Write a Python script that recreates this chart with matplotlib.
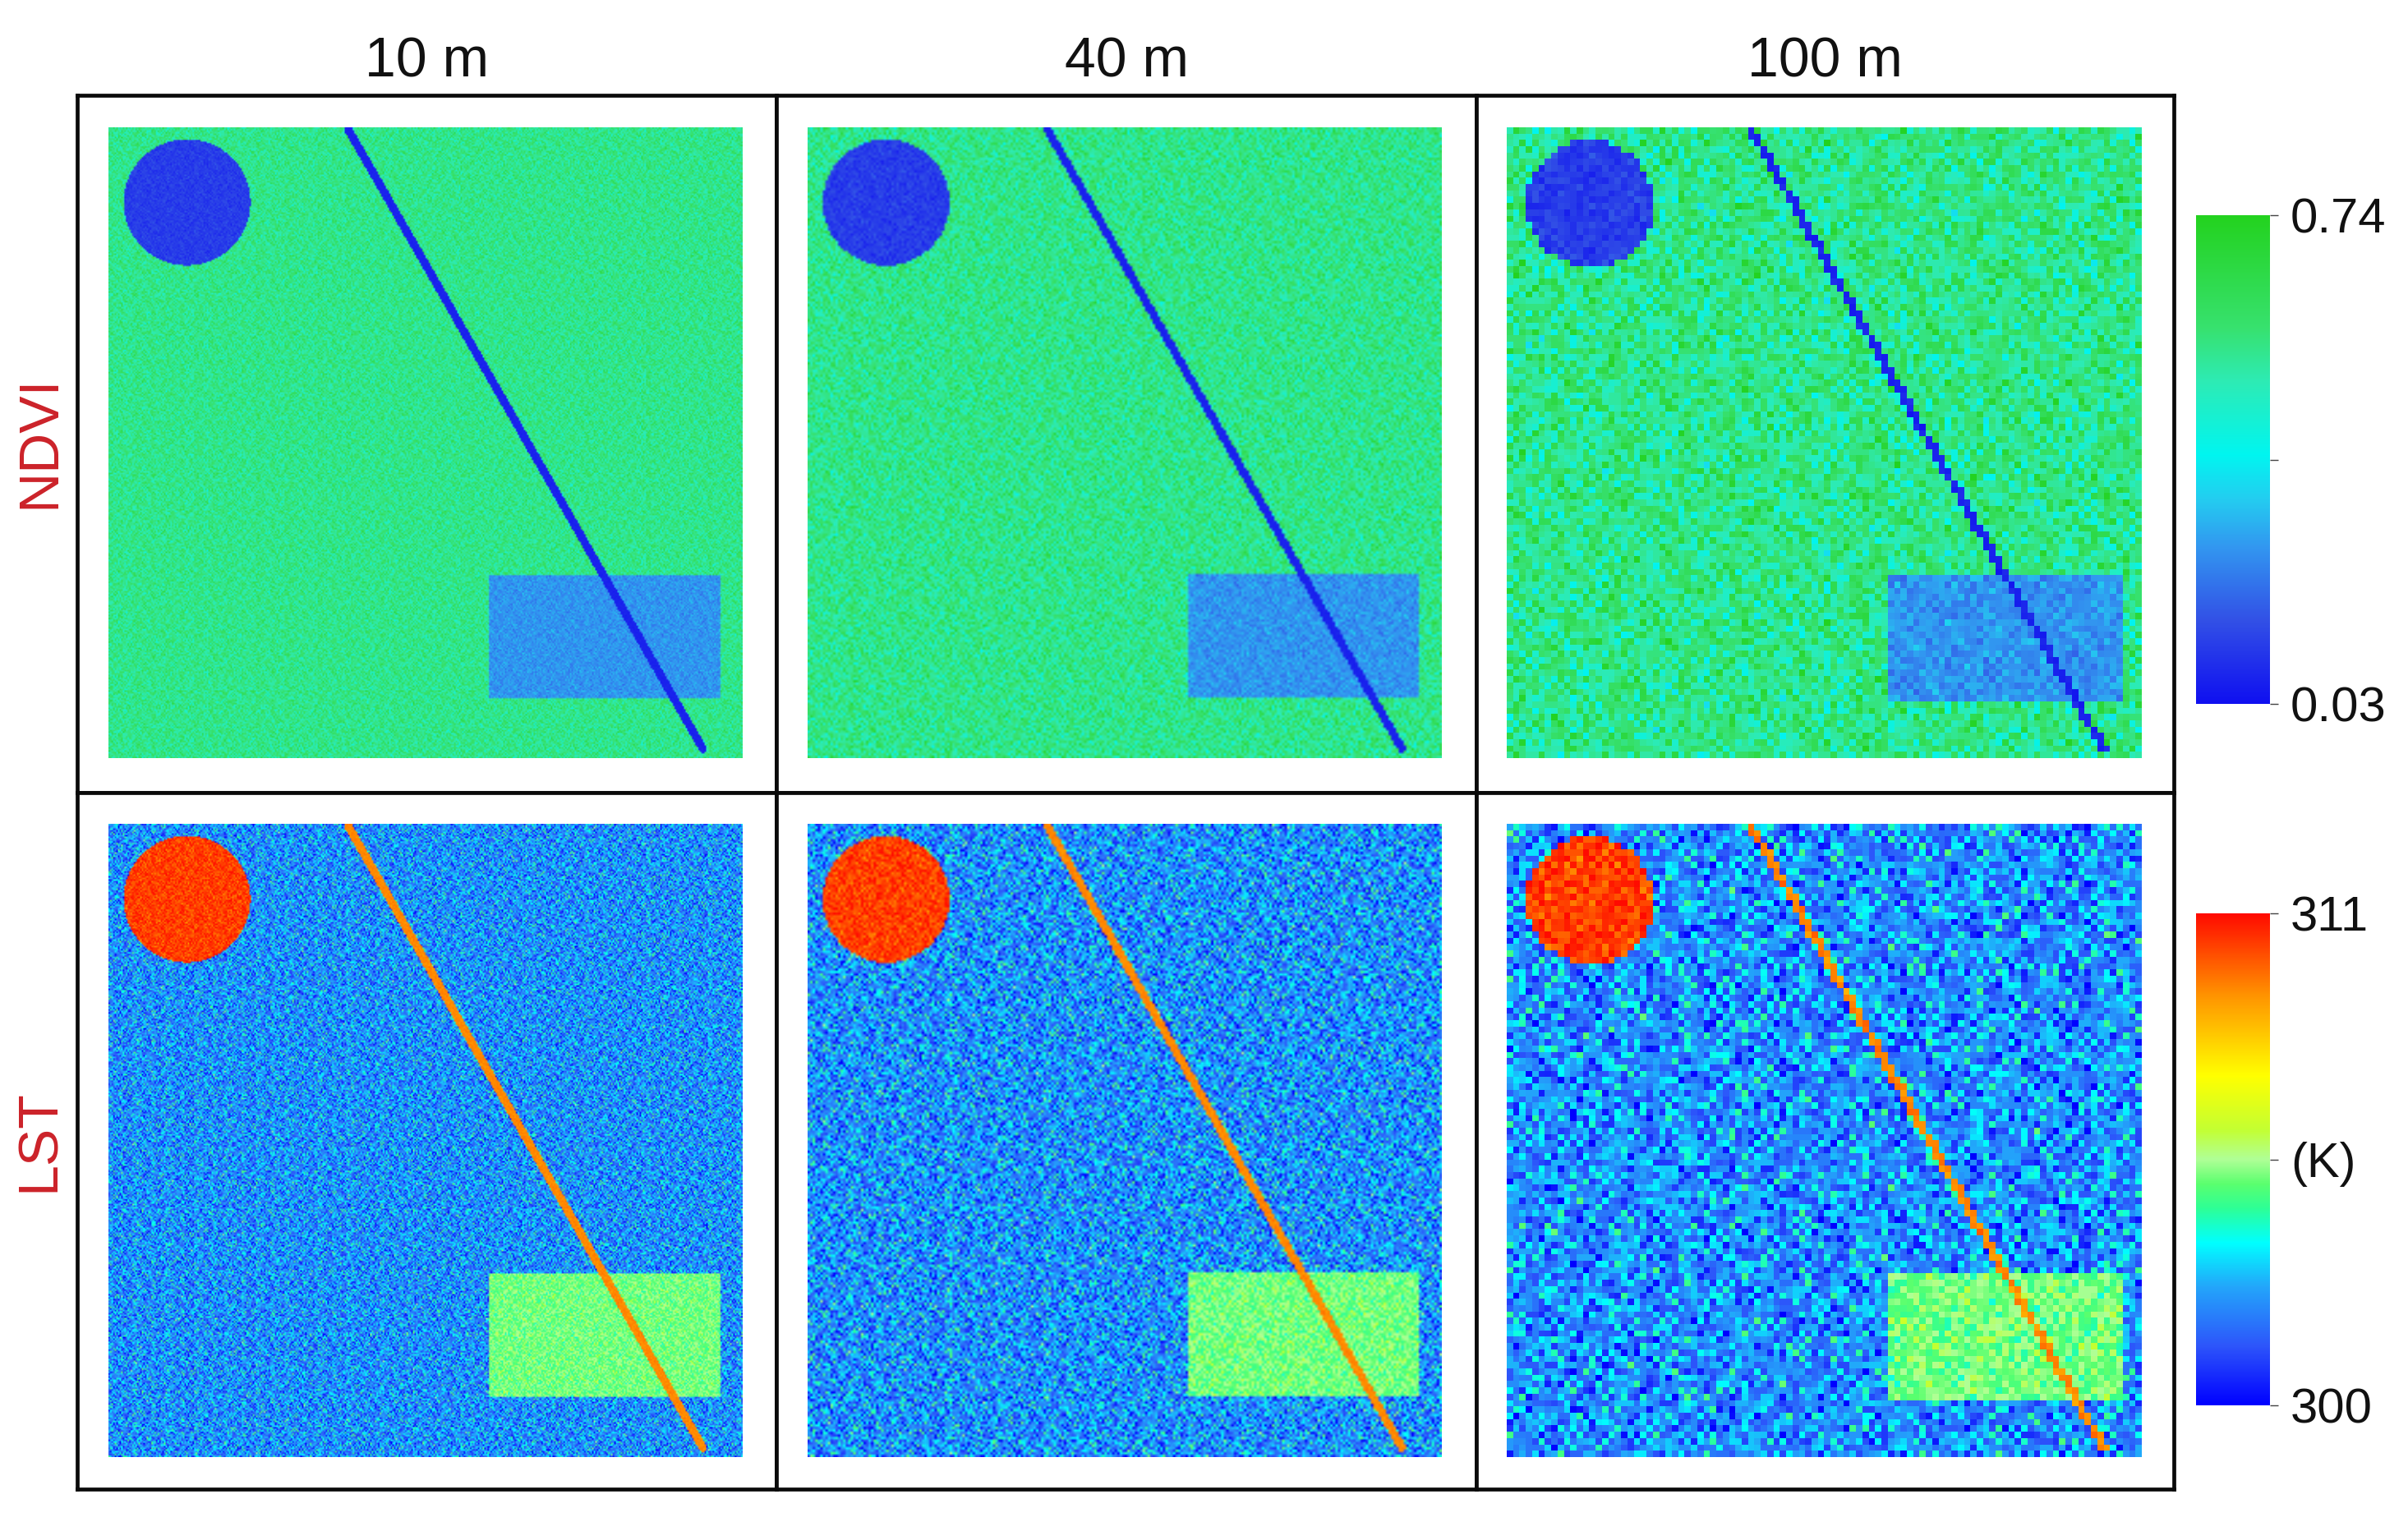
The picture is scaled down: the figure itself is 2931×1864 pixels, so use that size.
import numpy as np
import matplotlib
matplotlib.use("Agg")
import matplotlib.pyplot as plt
from matplotlib.colors import LinearSegmentedColormap, Normalize
from matplotlib.cm import ScalarMappable

plt.rcParams["font.family"] = ["Liberation Sans", "DejaVu Sans"]

W, H = 2931, 1864

col_titles = ["10 m", "40 m", "100 m"]
row_titles = ["NDVI", "LST"]
# the 10 m panel is drawn coarser than native so its speckle survives at this size
grid_sizes = [400, 250, 100]

# class means: background, circle, rectangle, line
ndvi_means = [0.545, 0.115, 0.255, 0.066]
lst_means = [302.25, 310.3, 305.1, 309.3]

# speckle size per class, per resolution column (estimated by eye)
ndvi_spread = [[0.050, 0.022, 0.030, 0.006],
               [0.060, 0.024, 0.032, 0.006],
               [0.072, 0.026, 0.032, 0.012]]
lst_spread = [[1.20, 0.50, 0.50, 0.15],
              [1.25, 0.50, 0.50, 0.15],
              [1.05, 0.50, 0.50, 0.25]]

ndvi_ticks = [0.03, 0.385, 0.74]
ndvi_ticklabels = ["0.03", "", "0.74"]
lst_ticks = [300, 305.5, 311]
lst_ticklabels = ["300", "(K)", "311"]

# speckle levels typed in by eye from the 100 m crops, not cell by cell
tile_a = [
    "3817294605182739461",
    "6250837194620583172",
    "1974605283719460528",
    "8362041759302816497",
    "4095728163945072816",
    "7183506924178350692",
    "2640917385260917385",
    "9526183047691830476",
    "0738462951038462951",
    "5291740683527406835",
    "3864091527164095278",
    "7015826394850263948",
    "1492637058319637058",
    "6738150429673150429",
    "2950483716204837162",
    "8146279530982795309",
    "0573916842439168424",
    "4829350176745031768",
    "9361704285160842851",
]
tile_b = [
    "52790314682957130468295",
    "18463907251640382917546",
    "73028561946172950483617",
    "40917283650839164275038",
    "96251740318526073941862",
    "23684095172493815607249",
    "81507362949160728354916",
    "37942816053728496105372",
    "64019528736051237849605",
    "09376145829463950162874",
    "75820693142817604395218",
    "12458037961350872946135",
    "98643271508692413075869",
    "30175984263047596820347",
    "56294801739215068473921",
    "47831526094782350916478",
    "03968157420539187264053",
    "81240693758126470539812",
    "69517328046973625180469",
    "25083746915308941726530",
    "74369051827640513982764",
    "18926430571295076348129",
    "50471869233847192605384",
]
# small patches, a few cells wide
tile_c = [
    "4726159308461",
    "8150374926038",
    "2693815047592",
    "6048297153760",
    "9315064872149",
    "1782940365827",
    "5460718293064",
    "3927156048391",
    "7051483629715",
    "0846392751206",
    "6219540873958",
    "3580726194437",
    "8193065427180",
]

ndvi_stops = [(0.0, (15, 15, 240)), (0.17, (50, 80, 230)), (0.32, (50, 150, 240)),
              (0.42, (35, 205, 240)), (0.51, (0, 245, 240)), (0.66, (45, 235, 180)),
              (0.77, (55, 225, 110)), (1.0, (35, 210, 30))]
lst_stops = [(0.0, (0, 0, 255)), (0.12, (45, 85, 250)), (0.24, (35, 165, 250)),
             (0.33, (0, 255, 255)), (0.40, (45, 255, 150)), (0.45, (90, 255, 110)),
             (0.50, (175, 255, 150)), (0.56, (195, 255, 50)), (0.67, (255, 255, 0)),
             (0.83, (255, 150, 0)), (1.0, (255, 10, 0))]


def make_cmap(name, stops):
    return LinearSegmentedColormap.from_list(
        name, [(p, tuple(v / 255 for v in c)) for p, c in stops], N=512)


ndvi_cmap = make_cmap("ndvi", ndvi_stops)
lst_cmap = make_cmap("lst", lst_stops)

A = np.array([[int(c) for c in r] for r in tile_a], dtype=float)
B = np.array([[int(c) for c in r] for r in tile_b], dtype=float)
C = np.array([[int(c) for c in r] for r in tile_c], dtype=float)


def speckle(n, shift=0):
    rr, cc = np.mgrid[0:n, 0:n]
    s = A[(rr + shift) % 19, cc % 19] + B[rr % 23, (cc + shift) % 23]
    s = s + 0.6 * C[(rr // 3 + shift) % 13, (cc // 3) % 13]
    return (s - s.mean()) / s.std()


def scene(n, means, spread, circle_x, circle_y, x0, x1, rect_x1, shift):
    rr, cc = np.mgrid[0:n, 0:n]
    x = (cc + 0.5) / n
    y = (rr + 0.5) / n
    circle = (x - circle_x) ** 2 + (y - circle_y) ** 2 <= 0.1 ** 2
    rect = (x >= 0.60) & (x <= rect_x1) & (y >= 0.709) & (y <= 0.905)
    y0, y1 = 0.005, 0.985
    t = np.clip(((x - x0) * (x1 - x0) + (y - y0) * (y1 - y0)) /
                ((x1 - x0) ** 2 + (y1 - y0) ** 2), 0, 1)
    dist = np.hypot(x - (x0 + t * (x1 - x0)), y - (y0 + t * (y1 - y0)))
    line = dist <= max(0.0065, 0.6 / n)
    mean = np.full((n, n), means[0], dtype=float)
    sd = np.full((n, n), spread[0], dtype=float)
    for mask, k in [(circle, 1), (rect, 2), (line, 3)]:
        mean[mask] = means[k]
        sd[mask] = spread[k]
    return mean + sd * speckle(n, shift)


def px_axes(x0, y0, x1, y1):
    # pixel box measured from the top left of the picture
    return fig.add_axes([x0 / W, 1 - y1 / H, (x1 - x0) / W, (y1 - y0) / H])


fig = plt.figure(figsize=(W / 100, H / 100), dpi=100, facecolor="white")

frame_x = [94, 945, 1797, 2646]
frame_y = [116, 965, 1813]
img_x = [(132, 903), (983, 1755), (1834, 2606)]
img_y = [(155, 923), (1003, 1774)]
circle_xy = [(0.124, 0.119), (0.124, 0.119), (0.131, 0.121)]
line_x = [(0.379, 0.937), (0.379, 0.937), (0.386, 0.940)]
rect_right = [0.964, 0.964, 0.973]

for i in range(2):
    for j in range(3):
        cell = px_axes(frame_x[j], frame_y[i], frame_x[j + 1], frame_y[i + 1])
        cell.set_xticks([])
        cell.set_yticks([])
        for sp in cell.spines.values():
            sp.set_linewidth(3.4)
            sp.set_color("#0a0a0a")

        ax = px_axes(img_x[j][0], img_y[i][0], img_x[j][1], img_y[i][1])
        means = ndvi_means if i == 0 else lst_means
        spread = ndvi_spread[j] if i == 0 else lst_spread[j]
        data = scene(grid_sizes[j], means, spread, circle_xy[j][0], circle_xy[j][1],
                     line_x[j][0], line_x[j][1], rect_right[j], i * 7 + j * 5)
        # rgba stage so the soft edges do not pass through the middle of the colour map
        if i == 0:
            ax.imshow(data, cmap=ndvi_cmap, vmin=0.03, vmax=0.74, aspect="auto",
                      interpolation="nearest" if j == 2 else "bilinear",
                      interpolation_stage="rgba")
        else:
            ax.imshow(data, cmap=lst_cmap, vmin=300, vmax=311, aspect="auto",
                      interpolation="nearest" if j == 2 else "bilinear",
                      interpolation_stage="rgba")
        ax.axis("off")

for j, t in enumerate(col_titles):
    x = (frame_x[j] + frame_x[j + 1]) / 2
    fig.text(x / W, 1 - 75 / H, t, ha="center", va="center", fontsize=49, color="#111111")

row_label_y = [538, 1389]
for i, t in enumerate(row_titles):
    fig.text(48 / W, 1 - row_label_y[i] / H, t, ha="center", va="center", rotation=90,
             fontsize=49, color="#cc2229")

bars = [
    ((2673, 262, 2763, 857), ndvi_cmap, 0.03, 0.74, ndvi_ticks, ndvi_ticklabels),
    ((2673, 1112, 2763, 1711), lst_cmap, 300, 311, lst_ticks, lst_ticklabels),
]
for box, cmap, lo, hi, ticks, labels in bars:
    cax = px_axes(*box)
    cb = fig.colorbar(ScalarMappable(norm=Normalize(lo, hi), cmap=cmap), cax=cax)
    cb.set_ticks(ticks)
    cb.set_ticklabels(labels)
    cb.outline.set_visible(False)
    cax.tick_params(length=7, width=1, color="#444444", pad=11, labelsize=43,
                    labelcolor="#111111")

fig.savefig("out.png", dpi=100)
